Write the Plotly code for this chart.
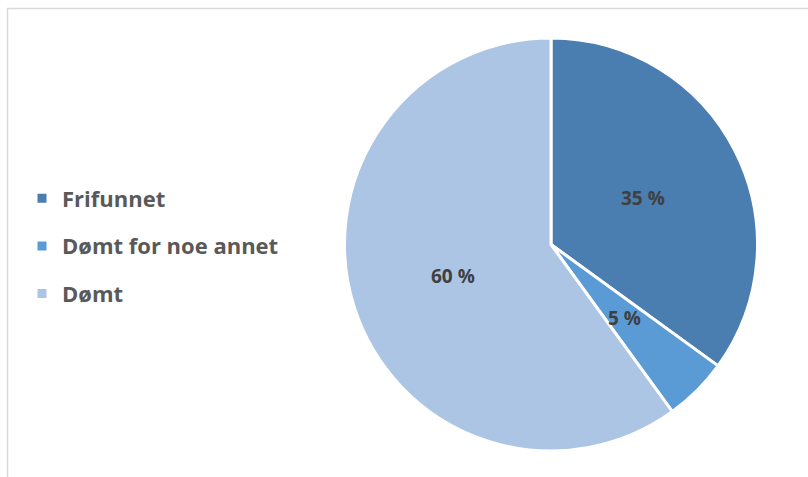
import math
import plotly.graph_objects as go

# Case outcomes (percent)
categories = ["Frifunnet", "Dømt for noe annet", "Dømt"]
shares = [35, 5, 60]
colors = ["#4a7eb0", "#5b9bd5", "#adc5e5"]

W, H = 808, 477
cx, cy, r = 551, 244.5, 206.5
label_frac = 0.5  # slice labels sit halfway out along each slice's bisector

fig = go.Figure()

fig.add_trace(go.Pie(
    labels=categories,
    values=shares,
    sort=False,
    direction="clockwise",
    rotation=0,
    marker=dict(colors=colors, line=dict(color="white", width=3)),
    textinfo="none",
    hoverinfo="label+percent",
    showlegend=False,
    domain=dict(x=[(cx - r) / W, (cx + r) / W], y=[1 - (cy + r) / H, 1 - (cy - r) / H]),
))

# Value labels placed along each slice's mid angle (clockwise from 12 o'clock)
total = sum(shares)
cum = 0
for v in shares:
    mid = (cum + v / 2) / total * 2 * math.pi
    cum += v
    px = cx + label_frac * r * math.sin(mid)
    py = cy - label_frac * r * math.cos(mid)
    fig.add_annotation(
        x=px / W, y=1 - py / H, xref="paper", yref="paper",
        xanchor="center", yanchor="middle",
        text=f"{v} %", showarrow=False,
        font=dict(family="Open Sans", size=19, color="#404040", weight="bold"),
    )

# Legend entries drawn as square swatches, one group each for spacing
for name, col in zip(categories, colors):
    fig.add_trace(go.Scatter(
        x=[None], y=[None], mode="markers", name=name,
        legendgroup=name,
        marker=dict(symbol="square", size=9, color=col),
        hoverinfo="skip",
    ))

fig.update_layout(
    width=W, height=H,
    margin=dict(l=0, r=0, t=0, b=0),
    paper_bgcolor="white",
    plot_bgcolor="white",
    xaxis=dict(visible=False),
    yaxis=dict(visible=False),
    legend=dict(
        x=22 / W, xanchor="left",
        y=1 - 246 / H, yanchor="middle",
        font=dict(family="Open Sans", size=22, color="#595959", weight="bold"),
        tracegroupgap=16,
        itemclick=False,
        bgcolor="rgba(0,0,0,0)",
    ),
    shapes=[dict(
        type="rect", xref="paper", yref="paper",
        x0=7.5 / W, x1=1.05, y0=-0.05, y1=1 - 8.5 / H,
        line=dict(color="#d9d9d9", width=1.5),
        layer="below",
    )],
)

fig.write_html("out.html")
